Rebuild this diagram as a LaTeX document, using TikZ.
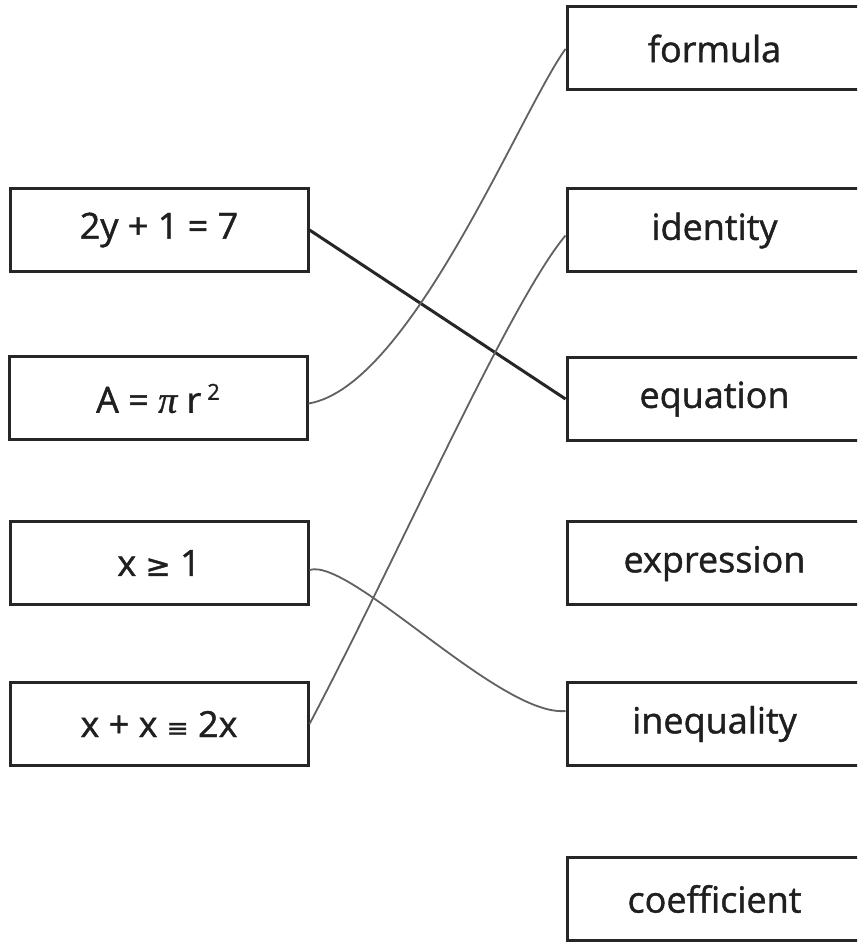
\documentclass[tikz,border=0pt]{standalone}
\usepackage{fontspec}
\newfontfamily\boxfont{Open Sans}[FakeBold=1.2]
\newfontfamily\symfont{DejaVu Sans}[FakeBold=1.2]
\newfontfamily\pifont{Liberation Serif}[FakeBold=1]
\begin{document}
\begin{tikzpicture}[x=1pt,y=1pt,
  box/.style={draw=black!85,line width=3pt,minimum width=298pt,minimum height=83pt,inner sep=0pt,
    font=\boxfont\fontsize{36}{40}\selectfont,text=black!88},
  rbox/.style={box,minimum width=295pt},
  thickline/.style={draw=black!85,line width=3pt},
  thinline/.style={draw=black!62,line width=1.8pt}]
\useasboundingbox (0,0) rectangle (857,942);
\clip (0,0) rectangle (857,942);
\fill[white] (0,0) rectangle (857,942);
% left boxes
\node[box] (L1) at (159,712) {2y + 1 = 7};
\node[box] (L2) at (158,543.5) {A = {\pifont\itshape\fontsize{38}{40}\selectfont π} r\,\raisebox{13pt}{\fontsize{22}{22}\selectfont 2}};
\node[box] (L3) at (159,379) {x {\symfont\fontsize{30}{30}\selectfont ≥} 1};
\node[box] (L4) at (159,218) {x + x {\symfont\fontsize{26}{30}\selectfont ≡} 2x};
% right boxes
\node[rbox] (R1) at (714.5,893.5) {formula};
\node[rbox] (R2) at (714.5,711.5) {identity};
\node[rbox] (R3) at (714.5,543) {equation};
\node[rbox] (R4) at (714.5,378.5) {expression};
\node[rbox] (R5) at (714.5,218) {inequality};
\node[rbox] (R6) at (714.5,43) {coefficient};
% connectors
\draw[thickline] (L1.east) -- (R3.west);
\draw[thinline] ([yshift=-5pt]L2.east) .. controls (410,555) and (520,830) .. ([yshift=-0.5pt]R1.west);
\draw[thinline] (L4.east) .. controls (400,390) and (510,640) .. ([yshift=-5pt]R2.west);
\draw[thinline] ([yshift=-7pt]L3.east) .. controls (350,385) and (500,225) .. ([yshift=13pt]R5.west);
\end{tikzpicture}
\end{document}
